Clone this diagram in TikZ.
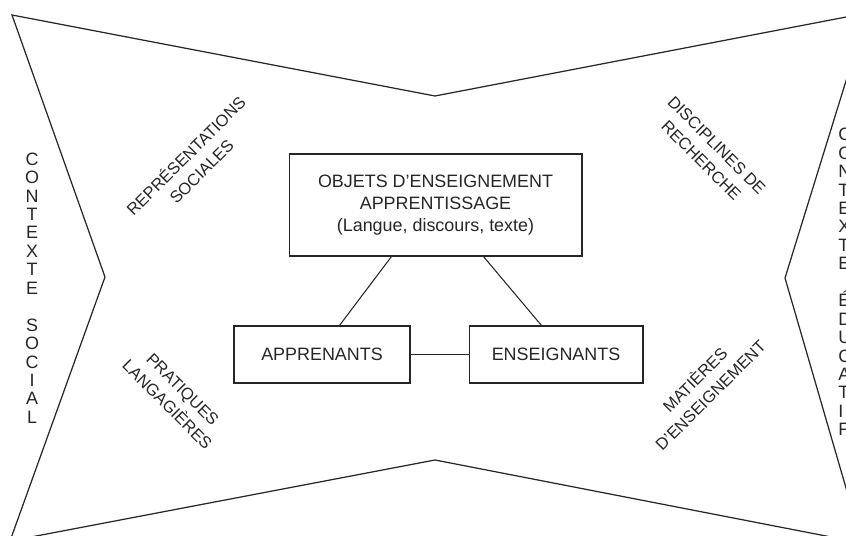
\documentclass[tikz,border=0pt]{standalone}
\usepackage{fontspec}
\setmainfont{Liberation Sans}
\usepackage{tikz}
\usetikzlibrary{shapes.geometric, arrows.meta, positioning}
\tikzstyle{boite} = [draw, line width=0.6pt, black!85, minimum height=1.14cm, inner sep=0pt, font=\fontsize{10.2}{12.4}\selectfont]
\tikzstyle{trait} = [draw, line width=0.6pt, black!85]
\tikzstyle{pole} = [align=center, inner sep=0pt, text=black!85, font=\fontsize{9.4}{12.4}\selectfont]
\tikzstyle{colonne} = [inner sep=0pt, text=black!85, font=\fontsize{10.2}{10.5}\selectfont]

\begin{document}
\begin{tikzpicture}[x=0.02cm, y=0.02cm]
		\useasboundingbox (0,0) rectangle (846,535);
		\clip (0,0) rectangle (846,535);
		\draw[trait, line width=0.7pt] (12,520) -- (435,439) -- (867,522) -- (785,257) -- (862,-8) -- (435,75) -- (10,-6) -- (105,258) -- cycle;
		\node[boite, minimum width=5.86cm, minimum height=2.04cm, align=center] (objets) at (435.5,330) {OBJETS D’ENSEIGNEMENT\\APPRENTISSAGE\\(Langue, discours, texte)};
		\node[boite, minimum width=3.52cm] (apprenants) at (322,180.5) {APPRENANTS};
		\node[boite, minimum width=3.48cm, right=1.16cm of apprenants] (enseignants) {ENSEIGNANTS};
		\draw[trait] ([xshift=2.06cm]objets.south west) -- ([xshift=2.12cm]apprenants.north west);
		\draw[trait] ([xshift=3.9cm]objets.south west) -- ([xshift=1.46cm]enseignants.north west);
		\draw[trait] (apprenants) -- (enseignants);
		\node[pole, rotate=45] (representations) at (193,372) {REPRÉSENTATIONS\\SOCIALES};
		\node[pole, rotate=-45] (disciplines) at (709,382) {DISCIPLINES DE\\RECHERCHE};
		\node[pole, rotate=-45] (pratiques) at (175,138) {PRATIQUES\\LANGAGIÈRES};
		\node[pole, rotate=45] (matieres) at (702,148) {MATIÈRES\\D’ENSEIGNEMENT};
		\node[colonne, align=center] (social) at (32,247) {C\\O\\N\\T\\E\\X\\T\\E\\[10.5pt]S\\O\\C\\I\\A\\L};
		\node[colonne, align=left, anchor=west] (educatif) at (838,253) {C\\O\\N\\T\\E\\X\\T\\E\\[10.5pt]É\\D\\U\\C\\A\\T\\I\\F};
	\end{tikzpicture}
\end{document}
